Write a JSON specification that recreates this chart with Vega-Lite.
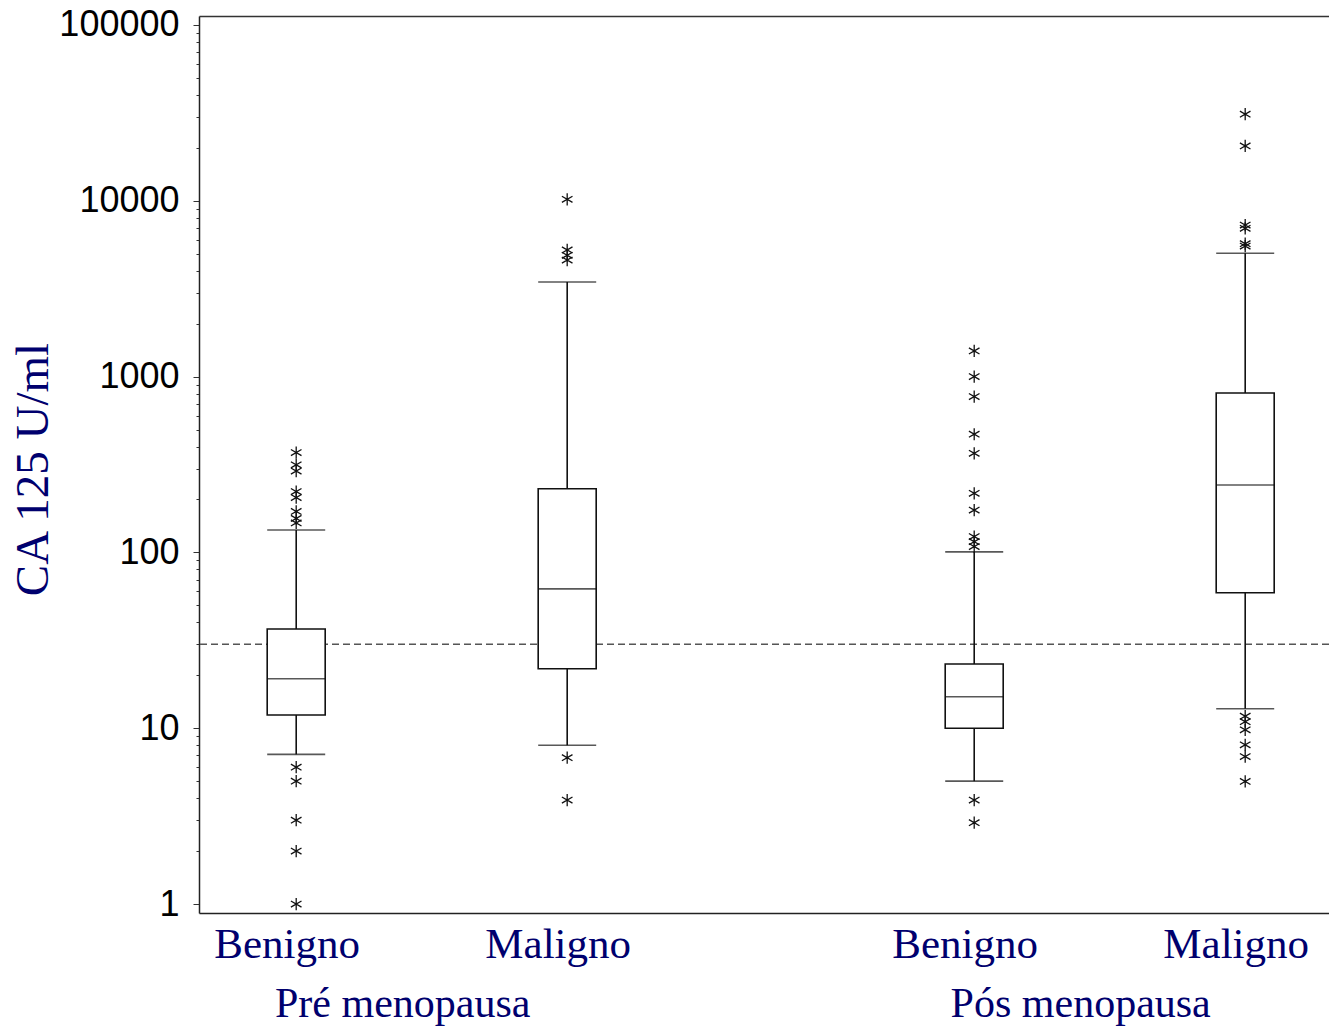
{
  "$schema": "https://vega.github.io/schema/vega-lite/v6.json",
  "width": 1130,
  "height": 897,
  "autosize": {"type": "none"},
  "padding": {"left": 199, "top": 16, "right": 0, "bottom": 115},
  "background": "white",
  "config": {"view": {"stroke": null}, "font": "Liberation Serif"},
  "datasets": {
    "caixas": [
      {"grupo": "Pré menopausa", "classe": "Benigno", "inferior": 7.1, "q1": 11.9, "mediana": 19.1, "q3": 36.7, "superior": 134},
      {"grupo": "Pré menopausa", "classe": "Maligno", "inferior": 8.0, "q1": 21.8, "mediana": 62, "q3": 230, "superior": 3450},
      {"grupo": "Pós menopausa", "classe": "Benigno", "inferior": 5.0, "q1": 10.0, "mediana": 15.1, "q3": 23.2, "superior": 100.7},
      {"grupo": "Pós menopausa", "classe": "Maligno", "inferior": 12.9, "q1": 58.9, "mediana": 242, "q3": 807, "superior": 5030}
    ],
    "atipicos": [
      {"grupo": "Pré menopausa", "classe": "Benigno", "ca125": 370},
      {"grupo": "Pré menopausa", "classe": "Benigno", "ca125": 315},
      {"grupo": "Pré menopausa", "classe": "Benigno", "ca125": 290},
      {"grupo": "Pré menopausa", "classe": "Benigno", "ca125": 222},
      {"grupo": "Pré menopausa", "classe": "Benigno", "ca125": 205},
      {"grupo": "Pré menopausa", "classe": "Benigno", "ca125": 171},
      {"grupo": "Pré menopausa", "classe": "Benigno", "ca125": 156},
      {"grupo": "Pré menopausa", "classe": "Benigno", "ca125": 147},
      {"grupo": "Pré menopausa", "classe": "Benigno", "ca125": 6},
      {"grupo": "Pré menopausa", "classe": "Benigno", "ca125": 5},
      {"grupo": "Pré menopausa", "classe": "Benigno", "ca125": 3},
      {"grupo": "Pré menopausa", "classe": "Benigno", "ca125": 2},
      {"grupo": "Pré menopausa", "classe": "Benigno", "ca125": 1},
      {"grupo": "Pré menopausa", "classe": "Maligno", "ca125": 10200},
      {"grupo": "Pré menopausa", "classe": "Maligno", "ca125": 5250},
      {"grupo": "Pré menopausa", "classe": "Maligno", "ca125": 4900},
      {"grupo": "Pré menopausa", "classe": "Maligno", "ca125": 4600},
      {"grupo": "Pré menopausa", "classe": "Maligno", "ca125": 6.8},
      {"grupo": "Pré menopausa", "classe": "Maligno", "ca125": 3.9},
      {"grupo": "Pós menopausa", "classe": "Benigno", "ca125": 1400},
      {"grupo": "Pós menopausa", "classe": "Benigno", "ca125": 1000},
      {"grupo": "Pós menopausa", "classe": "Benigno", "ca125": 770},
      {"grupo": "Pós menopausa", "classe": "Benigno", "ca125": 470},
      {"grupo": "Pós menopausa", "classe": "Benigno", "ca125": 366},
      {"grupo": "Pós menopausa", "classe": "Benigno", "ca125": 217},
      {"grupo": "Pós menopausa", "classe": "Benigno", "ca125": 174},
      {"grupo": "Pós menopausa", "classe": "Benigno", "ca125": 123},
      {"grupo": "Pós menopausa", "classe": "Benigno", "ca125": 115},
      {"grupo": "Pós menopausa", "classe": "Benigno", "ca125": 108},
      {"grupo": "Pós menopausa", "classe": "Benigno", "ca125": 3.9},
      {"grupo": "Pós menopausa", "classe": "Benigno", "ca125": 2.9},
      {"grupo": "Pós menopausa", "classe": "Maligno", "ca125": 31100},
      {"grupo": "Pós menopausa", "classe": "Maligno", "ca125": 20500},
      {"grupo": "Pós menopausa", "classe": "Maligno", "ca125": 7280},
      {"grupo": "Pós menopausa", "classe": "Maligno", "ca125": 6970},
      {"grupo": "Pós menopausa", "classe": "Maligno", "ca125": 5700},
      {"grupo": "Pós menopausa", "classe": "Maligno", "ca125": 5530},
      {"grupo": "Pós menopausa", "classe": "Maligno", "ca125": 11.7},
      {"grupo": "Pós menopausa", "classe": "Maligno", "ca125": 10.9},
      {"grupo": "Pós menopausa", "classe": "Maligno", "ca125": 9.8},
      {"grupo": "Pós menopausa", "classe": "Maligno", "ca125": 8.05},
      {"grupo": "Pós menopausa", "classe": "Maligno", "ca125": 6.9},
      {"grupo": "Pós menopausa", "classe": "Maligno", "ca125": 4.98}
    ],
    "corte": [{"valor": 30}]
  },
  "layer": [
    {
      "data": {"name": "corte"},
      "mark": {"type": "rule", "color": "#555555", "strokeWidth": 1.5, "strokeDash": [7, 4]},
      "encoding": {
        "y": {"field": "valor", "type": "quantitative", "title": "CA 125 U/ml",
              "scale": {"type": "log", "domain": [0.889, 112500], "nice": false}}
      }
    },
    {
      "data": {"name": "caixas"},
      "mark": {"type": "rule", "color": "#111111", "strokeWidth": 1.6},
      "encoding": {
        "x": {"field": "grupo", "type": "nominal",
              "scale": {"domain": ["Pré menopausa", "Pós menopausa"], "paddingInner": 0.3531, "paddingOuter": 0.00988, "align": 1},
              "axis": {"orient": "bottom", "title": null, "ticks": false, "tickSize": 0, "domain": true, "domainColor": "#222222", "domainWidth": 1.5,
                       "labelFont": "Liberation Serif", "labelFontSize": 42, "labelColor": "#00006e", "labelAngle": 0, "labelLimit": 0,
                       "labelBaseline": "alphabetic", "labelPadding": 103, "labelOffset": -29, "grid": false}},
        "xOffset": {"field": "classe", "type": "nominal", "scale": {"domain": ["Benigno", "Maligno"], "paddingInner": 0.3815, "paddingOuter": 0}},
        "y": {"field": "inferior", "type": "quantitative", "title": "CA 125 U/ml",
              "scale": {"type": "log", "domain": [0.889, 112500], "nice": false},
              "axis": {
                "values": [1,2,3,4,5,6,7,8,9,10,20,30,40,50,60,70,80,90,100,200,300,400,500,600,700,800,900,1000,2000,3000,4000,5000,6000,7000,8000,9000,10000,20000,30000,40000,50000,60000,70000,80000,90000,100000],
                "labelExpr": "abs(log(datum.value)/LN10 - round(log(datum.value)/LN10)) < 0.001 ? format(datum.value, 'd') : ''",
                "tickSize": {"condition": {"test": "abs(log(datum.value)/LN10 - round(log(datum.value)/LN10)) < 0.001", "value": 6}, "value": 3},
                "labelFont": "Liberation Sans", "labelFontSize": 36, "labelColor": "#000000", "labelPadding": 14,
                "labelOverlap": false, "grid": false,
                "domainColor": "#222222", "domainWidth": 1.5, "tickColor": "#333333", "tickWidth": 1,
                "title": "CA 125 U/ml", "titleFont": "Liberation Serif", "titleFontSize": 47, "titleFontWeight": "normal",
                "titleColor": "#00006e", "titlePadding": 1, "titleY": 453
              }},
        "y2": {"field": "superior"}
      }
    },
    {
      "data": {"name": "caixas"},
      "mark": {"type": "tick", "color": "#111111", "size": 58, "thickness": 1.6},
      "encoding": {
        "x": {"field": "grupo", "type": "nominal",
              "scale": {"domain": ["Pré menopausa", "Pós menopausa"], "paddingInner": 0.3531, "paddingOuter": 0.00988, "align": 1}, "axis": null},
        "xOffset": {"field": "classe", "type": "nominal", "scale": {"domain": ["Benigno", "Maligno"], "paddingInner": 0.3815, "paddingOuter": 0}},
        "y": {"field": "inferior", "type": "quantitative", "title": "CA 125 U/ml",
              "scale": {"type": "log", "domain": [0.889, 112500], "nice": false}}
      }
    },
    {
      "data": {"name": "caixas"},
      "mark": {"type": "tick", "color": "#111111", "size": 58, "thickness": 1.6},
      "encoding": {
        "x": {"field": "grupo", "type": "nominal",
              "scale": {"domain": ["Pré menopausa", "Pós menopausa"], "paddingInner": 0.3531, "paddingOuter": 0.00988, "align": 1}, "axis": null},
        "xOffset": {"field": "classe", "type": "nominal", "scale": {"domain": ["Benigno", "Maligno"], "paddingInner": 0.3815, "paddingOuter": 0}},
        "y": {"field": "superior", "type": "quantitative", "title": "CA 125 U/ml",
              "scale": {"type": "log", "domain": [0.889, 112500], "nice": false}}
      }
    },
    {
      "data": {"name": "caixas"},
      "mark": {"type": "bar", "width": 58, "fill": "white", "stroke": "#111111", "strokeWidth": 1.6},
      "encoding": {
        "x": {"field": "grupo", "type": "nominal",
              "scale": {"domain": ["Pré menopausa", "Pós menopausa"], "paddingInner": 0.3531, "paddingOuter": 0.00988, "align": 1}, "axis": null},
        "xOffset": {"field": "classe", "type": "nominal", "scale": {"domain": ["Benigno", "Maligno"], "paddingInner": 0.3815, "paddingOuter": 0}},
        "y": {"field": "q1", "type": "quantitative", "title": "CA 125 U/ml",
              "scale": {"type": "log", "domain": [0.889, 112500], "nice": false}},
        "y2": {"field": "q3"}
      }
    },
    {
      "data": {"name": "caixas"},
      "mark": {"type": "tick", "color": "#111111", "size": 58, "thickness": 1.6},
      "encoding": {
        "x": {"field": "grupo", "type": "nominal",
              "scale": {"domain": ["Pré menopausa", "Pós menopausa"], "paddingInner": 0.3531, "paddingOuter": 0.00988, "align": 1},
              "axis": {"orient": "top", "title": null, "labels": false, "ticks": false, "domain": true, "domainColor": "#333333", "domainWidth": 1.5, "grid": false}},
        "xOffset": {"field": "classe", "type": "nominal", "scale": {"domain": ["Benigno", "Maligno"], "paddingInner": 0.3815, "paddingOuter": 0}},
        "y": {"field": "mediana", "type": "quantitative", "title": "CA 125 U/ml",
              "scale": {"type": "log", "domain": [0.889, 112500], "nice": false}}
      }
    },
    {
      "data": {"name": "atipicos"},
      "mark": {"type": "point", "shape": "M0,-1L0,1M-0.866,-0.5L0.866,0.5M-0.866,0.5L0.866,-0.5", "filled": false, "stroke": "#111111", "strokeWidth": 1.3, "size": 150, "opacity": 1},
      "encoding": {
        "x": {"field": "grupo", "type": "nominal",
              "scale": {"domain": ["Pré menopausa", "Pós menopausa"], "paddingInner": 0.3531, "paddingOuter": 0.00988, "align": 1}, "axis": null},
        "xOffset": {"field": "classe", "type": "nominal", "scale": {"domain": ["Benigno", "Maligno"], "paddingInner": 0.3815, "paddingOuter": 0}},
        "y": {"field": "ca125", "type": "quantitative", "title": "CA 125 U/ml",
              "scale": {"type": "log", "domain": [0.889, 112500], "nice": false}}
      }
    },
    {
      "data": {"name": "caixas"},
      "mark": {"type": "text", "font": "Liberation Serif", "fontSize": 43, "color": "#00006e", "align": "center", "baseline": "alphabetic", "dy": 45, "dx": -9},
      "encoding": {
        "x": {"field": "grupo", "type": "nominal",
              "scale": {"domain": ["Pré menopausa", "Pós menopausa"], "paddingInner": 0.3531, "paddingOuter": 0.00988, "align": 1}, "axis": null},
        "xOffset": {"field": "classe", "type": "nominal", "scale": {"domain": ["Benigno", "Maligno"], "paddingInner": 0.3815, "paddingOuter": 0}},
        "y": {"value": "height"},
        "text": {"field": "classe"}
      }
    }
  ],
  "resolve": {"axis": {"x": "independent"}}
}
